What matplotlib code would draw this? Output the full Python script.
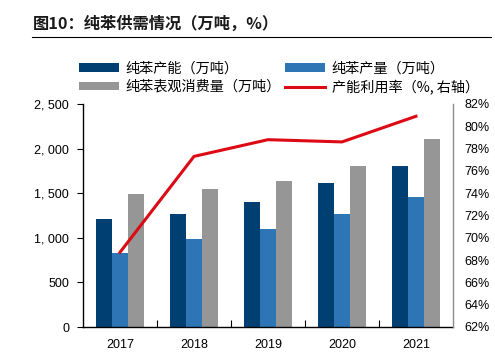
import matplotlib
matplotlib.use('Agg')
import matplotlib.pyplot as plt
import numpy as np
from matplotlib.ticker import FuncFormatter, FixedLocator

plt.rcParams['font.family'] = ['Liberation Sans', 'Noto Sans CJK SC', 'DejaVu Sans']

years = ['2017', '2018', '2019', '2020', '2021']
capacity = [1206, 1270, 1401, 1611, 1805]      # 纯苯产能
output = [828, 983, 1102, 1263, 1454]          # 纯苯产量
consumption = [1491, 1550, 1640, 1808, 2104]   # 纯苯表观消费量
util_rate = [68.7, 77.3, 78.8, 78.6, 80.9]     # 产能利用率 %

c_dark = '#003f72'
c_mid = '#2e75b6'
c_gray = '#969696'
c_red = '#dc0a14'

fig = plt.figure(figsize=(4.95, 3.56), dpi=100)

# title + rule
fig.text(33 / 495, 1 - 24 / 356, '图10：纯苯供需情况（万吨，%）', fontsize=11.7,
         family=['Noto Sans CJK SC', 'DejaVu Sans'], weight='bold', color='#1a1a1a',
         va='center', ha='left')
fig.add_artist(plt.Line2D([32 / 495, 491 / 495], [1 - 37 / 356, 1 - 37 / 356],
                          color='black', lw=0.8))

ax = fig.add_axes([83 / 495, 1 - 327 / 356, 370 / 495, 223 / 356])
x = np.arange(len(years))
w = 0.22
b1 = ax.bar(x - w, capacity, w, color=c_dark, label='纯苯产能（万吨）')
b2 = ax.bar(x, output, w, color=c_mid, label='纯苯产量（万吨）')
b3 = ax.bar(x + w, consumption, w, color=c_gray, label='纯苯表观消费量（万吨）')

ax.set_xlim(-0.5, len(years) - 0.5)
ax.set_ylim(0, 2500)
ax.set_yticks(np.arange(0, 2501, 500))
ax.yaxis.set_major_formatter(FuncFormatter(lambda v, p: f'{v:,.0f}'.replace(',', ', ')))
ax.xaxis.set_major_locator(FixedLocator(np.arange(0.5, len(years) - 1, 1)))
ax.xaxis.set_minor_locator(FixedLocator(x))
ax.set_xticklabels([], minor=False)
ax.set_xticklabels(years, minor=True)
ax.tick_params(axis='x', which='major', direction='in', length=5, width=0.8)
ax.tick_params(axis='x', which='minor', length=0, pad=9, labelsize=9)
ax.tick_params(axis='y', direction='out', length=4, width=0.8, labelsize=9, pad=6)
for s in ['top', 'right']:
    ax.spines[s].set_visible(False)
ax.spines['left'].set_linewidth(1.0)
ax.spines['bottom'].set_linewidth(1.0)

ax2 = ax.twinx()
l1, = ax2.plot(x, util_rate, color=c_red, lw=2.2, label='产能利用率（%, 右轴）')
ax2.set_ylim(62, 82)
ax2.set_yticks(np.arange(62, 83, 2))
ax2.yaxis.set_major_formatter(FuncFormatter(lambda v, p: f'{v:.0f}%'))
ax2.tick_params(axis='y', length=0, labelsize=9, pad=8)
for s in ['top', 'left', 'bottom']:
    ax2.spines[s].set_visible(False)
ax2.spines['right'].set_color('#8c8c8c')
ax2.spines['right'].set_linewidth(1.0)

handles = [b1, b3, b2, l1]
labels = [h.get_label() for h in handles]
leg = fig.legend(handles, labels, ncol=2, loc='upper left',
                 bbox_to_anchor=(73 / 495, 1 - 56 / 356), frameon=False,
                 prop={'family': ['Noto Sans CJK SC', 'DejaVu Sans'], 'size': 10.2},
                 handlelength=2.85, handleheight=0.55, handletextpad=0.45,
                 columnspacing=0.3, labelspacing=0.3, borderaxespad=0)

fig.savefig('out.png', dpi=100)
